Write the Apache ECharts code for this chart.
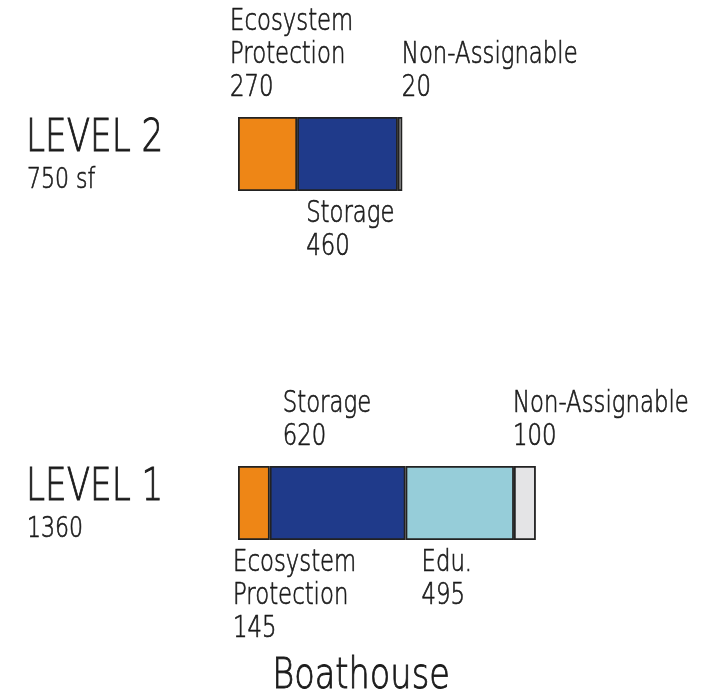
<!DOCTYPE html>
<html>
<head>
<meta charset="utf-8">
<title>Boathouse</title>
<script src="https://cdn.jsdelivr.net/npm/echarts@6/dist/echarts.min.js"></script>
<style>
  html, body { margin: 0; padding: 0; background: #ffffff; }
  #chart { width: 723px; height: 698px; }
</style>
</head>
<body>
<div id="chart"></div>
<script>
// Floor levels (y categories, bottom to top)
const levels = ['LEVEL 1', 'LEVEL 2'];
const levelAreaText = ['1360', '750 sf'];

// Space types, stacked left to right
const spaceTypes = ['Ecosystem Protection', 'Storage', 'Edu.', 'Non-Assignable'];
const spaceLabelText = ['Ecosystem\nProtection', 'Storage', 'Edu.', 'Non-Assignable'];

// Square footage per level, one array per space type
const ecosystemProtection = [145, 270];
const storage = [620, 460];
const education = [495, null];
const nonAssignable = [100, 20];

const caption = 'Boathouse';

const seriesValues = [ecosystemProtection, storage, education, nonAssignable];
const colors = ['#ee8616', '#1f3a8a', '#96cdd9', '#e4e4e6'];

// Where each segment's annotation sits: side of the bar and a small x nudge
const labelPlacement = {
  'LEVEL 1': [
    { side: 'below', dx: -5 },
    { side: 'above', dx: 13 },
    { side: 'below', dx: 16 },
    { side: 'above', dx: -1 }
  ],
  'LEVEL 2': [
    { side: 'above', dx: -8 },
    { side: 'below', dx: 9 },
    null,
    { side: 'above', dx: 4 }
  ]
};

// Thin, narrow lettering in the style of a drafting font
const FONT = '"DejaVu Sans", sans-serif';
const WEIGHT = 200;
const NARROW = 0.76;
const INK = '#1a1a1a';
const BAR_W = 74;

const chart = echarts.init(document.getElementById('chart'));

const option = {
  animation: false,
  backgroundColor: '#ffffff',
  grid: { left: 238, width: 438, top: 154, height: 349, outerBoundsMode: 'none' },
  xAxis: { type: 'value', min: 0, max: 2000, show: false },
  yAxis: { type: 'category', data: levels, boundaryGap: false, show: false },
  series: spaceTypes.map((name, i) => ({
    name: name,
    type: 'bar',
    stack: 'area',
    barWidth: BAR_W,
    data: seriesValues[i].map(v => (v == null ? '-' : v)),
    itemStyle: { color: colors[i], borderColor: '#222222', borderWidth: 1.8 }
  }))
};
chart.setOption(option);

function textEl(str, x, y, size, scale, align) {
  return {
    type: 'text',
    x: x,
    y: y,
    scaleX: scale,
    silent: true,
    style: {
      text: str,
      fill: INK,
      stroke: INK,
      lineWidth: size > 40 ? 0.9 : 0.7,
      font: WEIGHT + ' ' + size + 'px ' + FONT,
      align: align || 'left',
      verticalAlign: 'middle'
    }
  };
}

const graphics = [];
const LINE = 33;
const SEG_FONT = 30;

levels.forEach((lvl, li) => {
  const cy = chart.convertToPixel({ yAxisIndex: 0 }, lvl);
  const xStart = chart.convertToPixel({ xAxisIndex: 0 }, 0);

  // Level name and its area, left of the bar
  graphics.push(textEl(lvl, xStart - 212, cy - 15, 45, NARROW));
  graphics.push(textEl(levelAreaText[li], xStart - 211, cy + 26, 29, NARROW));

  let cum = 0;
  seriesValues.forEach((vals, si) => {
    const v = vals[li];
    if (v == null) return;
    const segX = chart.convertToPixel({ xAxisIndex: 0 }, cum);
    cum += v;
    const place = labelPlacement[lvl][si];
    if (!place) return;
    const lines = spaceLabelText[si].split('\n').concat([String(v)]);
    const x = segX + place.dx;
    lines.forEach((ln, k) => {
      let y;
      if (place.side === 'above') {
        y = cy - 66 - (lines.length - 1 - k) * LINE;
      } else {
        y = cy + 60 + k * LINE;
      }
      graphics.push(textEl(ln, x, y, SEG_FONT, NARROW));
    });
  });
});

// Caption under the chart
graphics.push(textEl(caption, 361, 677, 42, 0.8, 'center'));

chart.setOption({ graphic: graphics });
</script>
</body>
</html>
